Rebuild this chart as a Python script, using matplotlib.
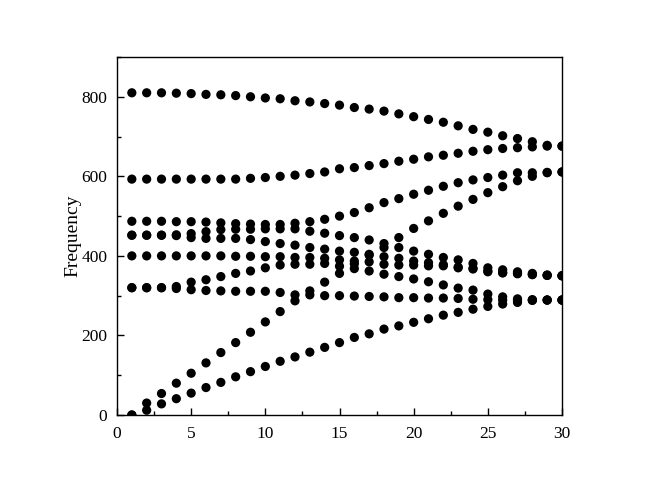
import matplotlib
matplotlib.use("Agg")
import matplotlib.pyplot as plt
from matplotlib.ticker import MultipleLocator
import numpy as np

x = list(range(1, 31))

branch_1 = [0, 12, 28, 41, 55, 69, 82, 96, 109, 122, 135, 146, 158, 170, 182,
            195, 204, 216, 224, 233, 242, 251, 258, 266, 273, 279, 283, 288, 289, 289]
branch_2 = [0, 30, 54, 80, 105, 131, 157, 182, 208, 234, 260, 287, 312, 334, 356,
            380, 402, 421, 446, 469, 488, 507, 525, 542, 559, 574, 589, 600, 609, 611]
branch_3 = [320, 320, 320, 318, 315, 313, 312, 311, 311, 311, 308, 302, 302, 300, 300,
            299, 298, 297, 295, 295, 294, 294, 293, 291, 290, 289, 289, 289, 289, 289]
branch_4 = [320, 320, 320, 323, 334, 340, 348, 356, 362, 370, 377, 379, 379, 381, 374,
            368, 362, 354, 348, 342, 335, 327, 319, 314, 304, 297, 292, 290, 289, 289]
branch_5 = [400, 400, 400, 400, 400, 400, 400, 399, 399, 398, 398, 396, 396, 394, 390,
            387, 385, 379, 377, 377, 375, 375, 370, 367, 360, 357, 355, 353, 351, 350]
branch_6 = [452, 452, 452, 451, 446, 444, 444, 444, 441, 436, 431, 427, 421, 417, 412,
            409, 404, 398, 394, 387, 383, 378, 372, 369, 362, 358, 356, 353, 351, 350]
branch_7 = [452, 452, 452, 453, 456, 461, 466, 467, 467, 468, 468, 468, 462, 457, 451,
            446, 440, 431, 421, 412, 404, 396, 390, 381, 370, 365, 360, 356, 352, 350]
branch_8 = [487, 487, 487, 486, 486, 485, 483, 481, 480, 479, 479, 482, 486, 492, 500,
            509, 521, 534, 544, 555, 565, 575, 584, 591, 597, 603, 609, 609, 610, 611]
branch_9 = [593, 593, 593, 593, 593, 593, 593, 593, 595, 597, 600, 603, 607, 611, 619,
            622, 627, 632, 638, 643, 649, 653, 658, 663, 667, 670, 672, 674, 676, 676]
branch_10 = [810, 810, 810, 809, 808, 806, 805, 803, 800, 797, 795, 790, 787, 783, 779,
             773, 769, 764, 757, 750, 743, 736, 727, 718, 711, 702, 695, 687, 678, 676]

branches = [branch_1, branch_2, branch_3, branch_4, branch_5,
            branch_6, branch_7, branch_8, branch_9, branch_10]

plt.rcParams['font.family'] = ['Liberation Serif', 'DejaVu Serif']

fig = plt.figure(figsize=(6.53, 4.99), dpi=100)
ax = fig.add_axes([117/653, 1 - 415/499, (562-117)/653, (415-57)/499])

for b in branches:
    ax.scatter(x, b, s=44, color='black', edgecolors='none', zorder=3)

ax.set_xlim(0, 30)
ax.set_ylim(0, 900)
ax.xaxis.set_major_locator(MultipleLocator(5))
ax.xaxis.set_minor_locator(MultipleLocator(2.5))
ax.yaxis.set_major_locator(MultipleLocator(200))
ax.yaxis.set_minor_locator(MultipleLocator(100))
ax.tick_params(axis='both', which='major', direction='in', length=5, width=1,
               labelsize=12.5, top=False, right=False)
ax.tick_params(axis='x', which='major', pad=8)
ax.tick_params(axis='y', which='major', pad=7)
ax.tick_params(axis='both', which='minor', direction='in', length=3, width=1,
               top=False, right=False)
ax.set_ylabel('Frequency', fontsize=14, labelpad=0)
for s in ax.spines.values():
    s.set_linewidth(1.0)

fig.savefig('out.png', dpi=100)
